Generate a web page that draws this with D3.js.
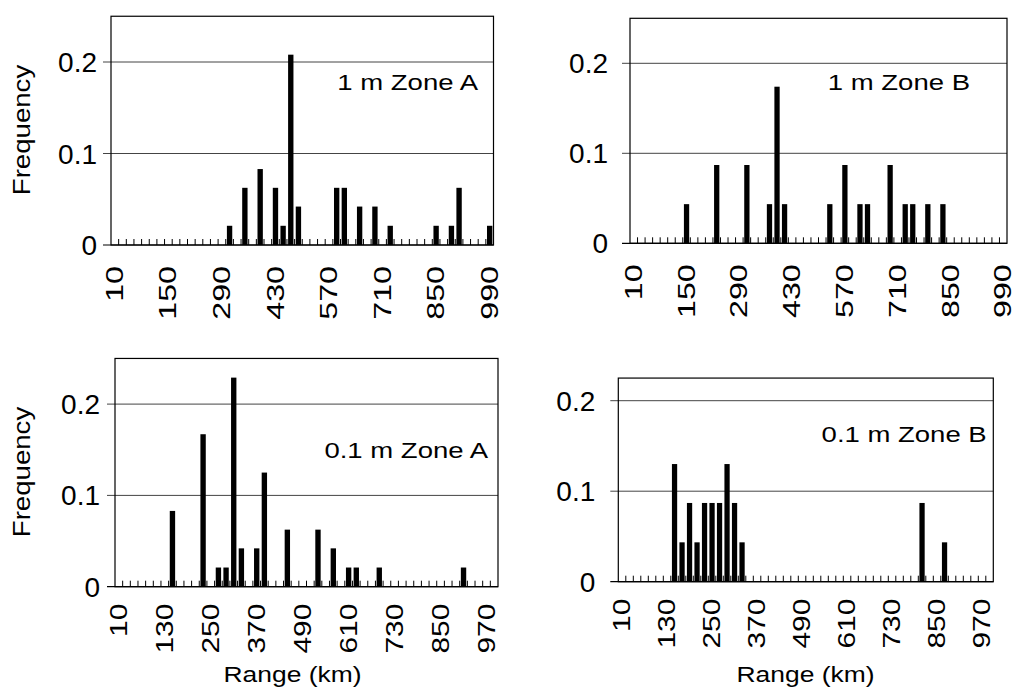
<!DOCTYPE html>
<html><head><meta charset="utf-8">
<script src="https://cdn.jsdelivr.net/npm/d3@7"></script>
<style>
body{margin:0;background:#fff}
svg{display:block}
text{font-family:"Liberation Sans",Arial,Helvetica,sans-serif;fill:#000}
</style>
</head><body>
<svg id="c" width="1019" height="696"></svg>
<script>
// ---- data ----
const categories = [10,30,50,70,90,110,130,150,170,190,210,230,250,270,290,310,330,350,370,390,
  410,430,450,470,490,510,530,550,570,590,610,630,650,670,690,710,730,750,770,790,
  810,830,850,870,890,910,930,950,970,990];
const topTickLabels = ["10","150","290","430","570","710","850","990"];
const bottomTickLabels = ["10","130","250","370","490","610","730","850","970"];
const yTickValues = [0, 0.1, 0.2];
const yTickLabels = ["0", "0.1", "0.2"];

const range1mA = [310,350,390,430,450,470,490,590,610,650,690,730,850,890,910,990];
const freq1mA  = [0.021,0.0625,0.083,0.0625,0.021,0.208,0.042,0.0625,0.0625,0.042,0.042,0.021,0.021,0.021,0.0625,0.021];

const range1mB = [150,230,310,370,390,410,530,570,610,630,690,730,750,790,830];
const freq1mB  = [0.0435,0.087,0.087,0.0435,0.174,0.0435,0.0435,0.087,0.0435,0.0435,0.087,0.0435,0.0435,0.0435,0.0435];

const range01mA = [150,230,270,290,310,330,370,390,450,530,570,610,630,690,910];
const freq01mA  = [0.083,0.167,0.021,0.021,0.229,0.042,0.042,0.125,0.0625,0.0625,0.042,0.021,0.021,0.021,0.021];

const range01mB = [150,170,190,210,230,250,270,290,310,330,810,870];
const freq01mB  = [0.130,0.0435,0.087,0.0435,0.087,0.087,0.087,0.130,0.087,0.0435,0.087,0.0435];

const panelTitles = ["1 m Zone A","1 m Zone B","0.1 m Zone A","0.1 m Zone B"];
const yMaxes = [0.25, 0.25, 0.25, 0.225];

// ---- layout ----
const svg = d3.select("#c");
const panels = [
  {x0:111, x1:493.5, yBase:245, unit:915, range:range1mA, freq:freq1mA, title:panelTitles[0], ymax:yMaxes[0],
   ticks:topTickLabels, tickOff:21, tickStretch:1.4, yGap:14, titleX:478, titleY:90, freqLabel:{x:22,y:130}, xlabel:null},
  {x0:630, x1:1007, yBase:243.3, unit:900, range:range1mB, freq:freq1mB, title:panelTitles[1], ymax:yMaxes[1],
   ticks:topTickLabels, tickOff:21, tickStretch:1.4, yGap:22, titleX:970, titleY:90, freqLabel:null, xlabel:null},
  {x0:115, x1:498, yBase:586.7, unit:913, range:range01mA, freq:freq01mA, title:panelTitles[2], ymax:yMaxes[2],
   ticks:bottomTickLabels, tickOff:17, tickStretch:1.3, yGap:15, titleX:488, titleY:457.7, freqLabel:{x:22,y:472}, xlabel:{x:292.5,y:681.7}},
  {x0:618.3, x1:993.3, yBase:581.7, unit:905, range:range01mB, freq:freq01mB, title:panelTitles[3], ymax:yMaxes[3],
   ticks:bottomTickLabels, tickOff:17, tickStretch:1.3, yGap:23, titleX:986.7, titleY:441.7, freqLabel:null, xlabel:{x:805.5,y:681.7}}
];

function stretch(sel, f){
  sel.each(function(){
    const n = this.getComputedTextLength();
    d3.select(this).attr("textLength", n*f).attr("lengthAdjust","spacingAndGlyphs");
  });
}

panels.forEach(p => {
  const g = svg.append("g");
  const x = d3.scaleBand().domain(categories).range([p.x0, p.x1]).padding(0);
  const y = d3.scaleLinear().domain([0, p.ymax]).range([p.yBase, p.yBase - p.ymax*p.unit]);
  const bw = x.bandwidth();
  const yTop = y(p.ymax);

  // gridlines & baseline
  g.selectAll("line.grid").data(yTickValues).join("line")
    .attr("x1", p.x0 - 8).attr("x2", p.x1)
    .attr("y1", d => y(d)).attr("y2", d => y(d))
    .attr("stroke", d => d === 0 ? "#000" : "#444").attr("stroke-width", d => d===0?1.2:1);

  // frame
  g.append("rect").attr("x", p.x0).attr("y", yTop)
    .attr("width", p.x1 - p.x0).attr("height", p.yBase - yTop)
    .attr("fill", "none").attr("stroke", "#000").attr("stroke-width", 1.2);

  // category boundary ticks (inside)
  g.selectAll("line.ct").data(categories.slice(1)).join("line")
    .attr("x1", d => x(d)).attr("x2", d => x(d))
    .attr("y1", p.yBase).attr("y2", p.yBase - 6)
    .attr("stroke", "#000").attr("stroke-width", 1);

  // bars
  const data = p.range.map((r, i) => ({r, v: p.freq[i]}));
  g.selectAll("rect.bar").data(data).join("rect")
    .attr("x", d => x(d.r) + bw*0.15).attr("width", bw*0.7)
    .attr("y", d => y(d.v)).attr("height", d => y(0) - y(d.v))
    .attr("fill", "#000");

  // y tick labels
  g.selectAll("text.yt").data(yTickValues).join("text")
    .attr("x", p.x0 - p.yGap).attr("y", d => y(d)).attr("dy", "0.36em")
    .attr("text-anchor", "end").style("font-size", "28px")
    .text((d, i) => yTickLabels[i]);

  // x tick labels (rotated)
  p.ticks.forEach(t => {
    const cx = x(+t) + bw/2;
    const ty = p.yBase + p.tickOff;
    g.append("text")
      .attr("transform", `translate(${cx},${ty}) rotate(-90)`)
      .attr("dy", "0.35em").attr("text-anchor", "end")
      .style("font-size", "23px").text(t)
      .call(stretch, p.tickStretch);
  });

  // title
  g.append("text").attr("x", p.titleX).attr("y", p.titleY)
    .attr("text-anchor", "end").style("font-size", "22px").text(p.title)
    .call(stretch, 1.25);

  if (p.freqLabel) {
    g.append("text")
      .attr("transform", `translate(${p.freqLabel.x},${p.freqLabel.y}) rotate(-90)`)
      .attr("dy", "0.35em").attr("text-anchor", "middle")
      .style("font-size", "24px").text("Frequency")
      .call(stretch, 1.15);
  }
  if (p.xlabel) {
    g.append("text").attr("x", p.xlabel.x).attr("y", p.xlabel.y)
      .attr("text-anchor", "middle").style("font-size", "22px").text("Range (km)")
      .call(stretch, 1.2);
  }
});
</script>
</body></html>
